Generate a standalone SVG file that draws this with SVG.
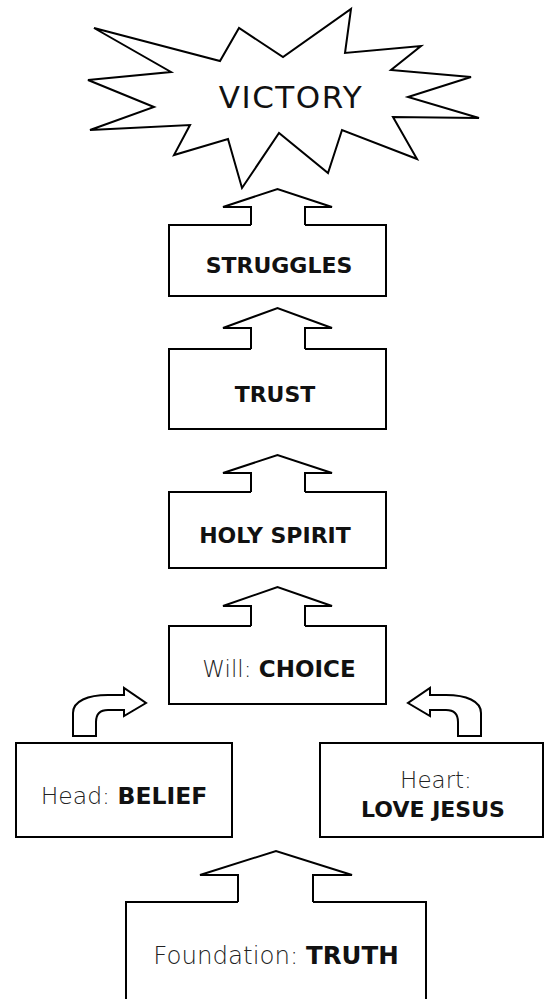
<svg xmlns="http://www.w3.org/2000/svg" width="545" height="999" viewBox="0 0 545 999">
<style>
.sh{fill:#fff;stroke:#000;stroke-width:2;stroke-linejoin:miter}
.ar{fill:none;stroke:#000;stroke-width:2;stroke-linejoin:miter}
.cv{fill:#fff;stroke:#000;stroke-width:2;stroke-linejoin:miter}
text{font-family:"DejaVu Sans","Liberation Sans",sans-serif;fill:#111;text-anchor:middle}
.b{font-weight:700}
.l{font-weight:200;fill:#222}
</style>
<rect width="545" height="999" fill="#fff"/>
<g id="victory">
<polygon class="sh" points="94,28 220,61 239,28 283,57 351,9 345,53 421,46 391,70 471,77 408,97 479,118 393,117 417,159 342,130 328,173 279,133 242,188 228,139 174,155 190,125 90,130 154,107 88,80 171,72"/>
<text x="291" y="108" font-size="31" letter-spacing="1.5">VICTORY</text>
</g>
<g id="struggles">
<path class="sh" d="M251,225 H169 V296 H386 V225 H305"/>
<text class="b" x="279" y="273" font-size="22">STRUGGLES</text>
</g>
<g id="trust">
<path class="sh" d="M251,349 H169 V429 H386 V349 H305"/>
<text class="b" x="275" y="402" font-size="22">TRUST</text>
</g>
<g id="holyspirit">
<path class="sh" d="M251,492 H169 V568 H386 V492 H305"/>
<text class="b" x="275" y="543" font-size="22">HOLY SPIRIT</text>
</g>
<g id="will">
<path class="sh" d="M251,626 H169 V704 H386 V626 H305"/>
<text x="279" y="677" font-size="23"><tspan class="l">Will: </tspan><tspan class="b">CHOICE</tspan></text>
</g>
<g id="head">
<rect class="sh" x="16" y="743" width="216" height="94"/>
<text x="124" y="804" font-size="23.5"><tspan class="l">Head: </tspan><tspan class="b">BELIEF</tspan></text>
</g>
<g id="heart">
<rect class="sh" x="320" y="743" width="223" height="94"/>
<text class="l" x="436" y="788" font-size="23">Heart:</text>
<text class="b" x="433" y="817" font-size="22">LOVE JESUS</text>
</g>
<g id="foundation">
<path class="sh" d="M238,902 H126 V1010 H426 V902 H313"/>
<text x="276" y="964" font-size="24.5"><tspan class="l">Foundation: </tspan><tspan class="b">TRUTH</tspan></text>
</g>
<g id="connectors">
<polyline class="ar" points="251,225 251,207 223,207 277.5,189 332,207 305,207 305,225"/>
<polyline class="ar" points="251,349 251,328 223,328 277.5,308 332,328 305,328 305,349"/>
<polyline class="ar" points="251,492 251,473 223,473 277.5,455 332,473 305,473 305,492"/>
<polyline class="ar" points="251,626 251,606 223,606 277.5,587 332,606 305,606 305,626"/>
<polyline class="ar" points="238,902 238,875 200,875 276,851 352,875 313,875 313,902"/>
<path class="cv" d="M73,736 V713 C73,701 88,695 108,695 H124 V688 L146,703 L124,716 V710 H108 C100,710 96,714 96,722 V736 Z"/>
<path class="cv" d="M481,736 V713 C481,701 466,695 446,695 H430 V688 L408,703 L430,716 V710 H446 C454,710 458,714 458,722 V736 Z"/>
</g>
</svg>
